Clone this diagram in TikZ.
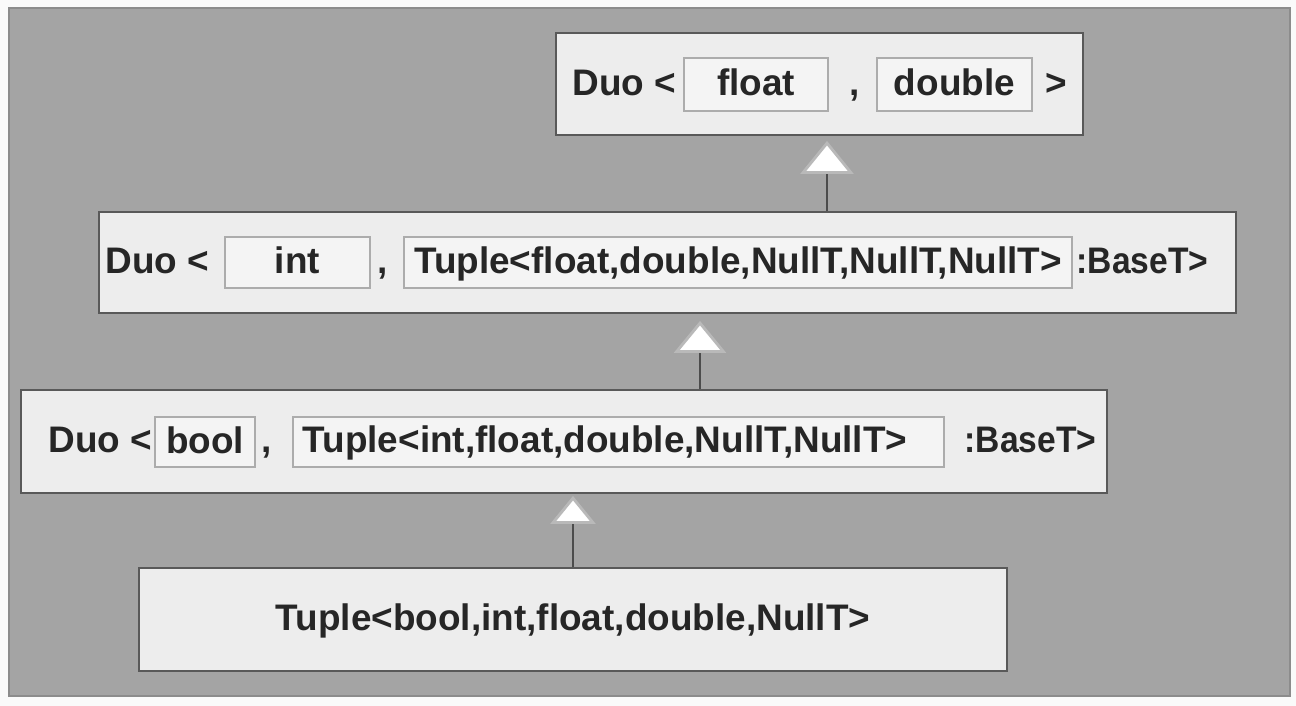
\documentclass[tikz,border=0pt]{standalone}
\usepackage{fontspec}
\setmainfont{Liberation Sans}
\newfontfamily\narrowsans[FakeStretch=0.91]{Liberation Sans}
\usetikzlibrary{arrows.meta}
\definecolor{bggray}{HTML}{A4A4A4}
\definecolor{boxfill}{HTML}{EDEDED}
\definecolor{ink}{HTML}{262626}
\tikzset{
  box/.style={draw=gray!70!black, line width=0.5pt, fill=boxfill, inner sep=0pt},
  slot/.style={draw=gray!65, line width=0.4pt, fill=boxfill!60!white, inner sep=0pt,
    text height=0.3cm, text depth=0.08cm, font=\bfseries\fontsize{10.5}{12}\selectfont, text=ink},
  txt/.style={inner sep=0pt, text height=0.3cm, text depth=0.08cm,
    font=\bfseries\fontsize{10.5}{12}\selectfont, text=ink},
  narrowtxt/.style={txt, font=\narrowsans\bfseries\fontsize{10.5}{12}\selectfont},
  isa/.style={draw=black!70, line width=0.8pt}
}
\begin{document}
\begin{tikzpicture}[x=0.01cm, y=-0.01cm]
\useasboundingbox (0,0) rectangle (1296,706);
\fill[white!96!gray] (0,0) rectangle (1296,706);
\fill[bggray] (9,8) rectangle (1290,696);
\draw[black!45, line width=0.6pt] (9,8) rectangle (1290,696);
%
\node[box, minimum width=5.27cm, minimum height=1.02cm] (duoA) at (819.5,84) {};
\node[txt, anchor=west] (duoAt) at (572,84) {Duo <};
\node[slot, minimum width=1.44cm, minimum height=0.53cm] (sFloat) at (756,84.5) {float};
\node[txt] (cA) at (855,84) {,};
\node[slot, minimum width=1.55cm, minimum height=0.53cm] (sDouble) at (954.5,84.5) {double};
\node[txt, anchor=west] (gtA) at (1045,84) {>};
%
\node[box, minimum width=11.37cm, minimum height=1.01cm] (duoB) at (667.5,262.5) {};
\node[txt, anchor=west] (duoBt) at (105,262.5) {Duo <};
\node[slot, minimum width=1.45cm, minimum height=0.51cm] (sInt) at (297.5,262.5) {int};
\node[txt] (cB) at (383,262.5) {,};
\node[slot, minimum width=6.68cm, minimum height=0.51cm] (sTupB) at (738,262.5) {Tuple<float,double,NullT,NullT,NullT>};
\node[narrowtxt, anchor=west] (baseB) at (1076,262.5) {:BaseT>};
%
\node[box, minimum width=10.86cm, minimum height=1.03cm] (duoC) at (564,441.5) {};
\node[txt, anchor=west] (duoCt) at (48,441.5) {Duo <};
\node[slot, minimum width=1.00cm, minimum height=0.50cm] (sBool) at (205,442) {bool};
\node[txt] (cC) at (267,441.5) {,};
\node[slot, minimum width=6.51cm, minimum height=0.50cm] (sTupC) at (618.5,442) {};
\node[txt, anchor=west] (tupCt) at (302,441.5) {Tuple<int,float,double,NullT,NullT>};
\node[narrowtxt, anchor=west] (baseC) at (964,441.5) {:BaseT>};
%
\node[box, minimum width=8.68cm, minimum height=1.03cm] (tupD) at (573,619.5) {};
\node[txt] (tupDt) at (573,619.5) {Tuple<bool,int,float,double,NullT>};
%
\coordinate (a1) at (827,0);
\coordinate (a2) at (700,0);
\coordinate (a3) at (573,0);
\draw[isa, shorten >=0.05cm, -{Triangle[width=0.53cm, length=0.33cm, fill=white, color=gray!55]}]
  (a1 |- duoB.north) -- (a1 |- duoA.south);
\draw[isa, shorten >=0.07cm, -{Triangle[width=0.52cm, length=0.32cm, fill=white, color=gray!55]}]
  (a2 |- duoC.north) -- (a2 |- duoB.south);
\draw[isa, shorten >=0.02cm, -{Triangle[width=0.45cm, length=0.28cm, fill=white, color=gray!55]}]
  (a3 |- tupD.north) -- (a3 |- duoC.south);
\end{tikzpicture}
\end{document}
